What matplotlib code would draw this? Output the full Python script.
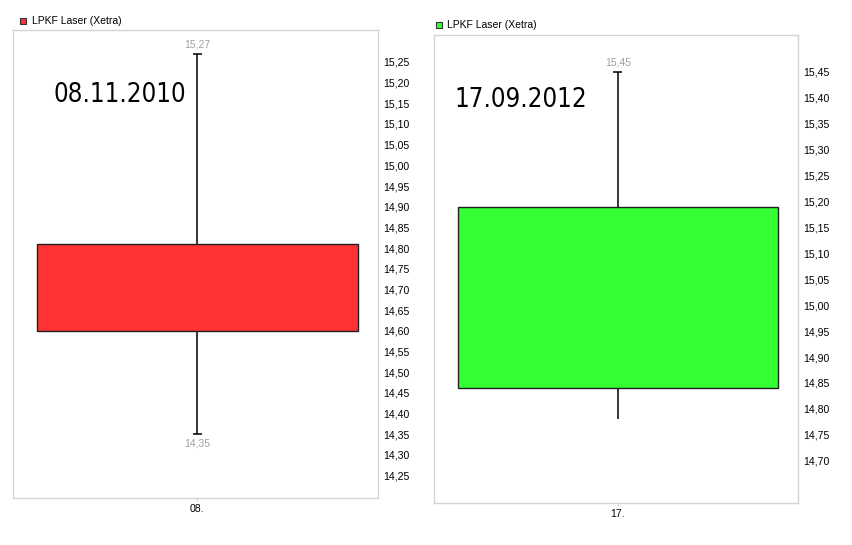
import matplotlib
matplotlib.use("Agg")
import matplotlib.pyplot as plt
from matplotlib.patches import Rectangle
import numpy as np

# ---- data ----
dates = ["08.11.2010", "17.09.2012"]
xlabels = ["08.", "17."]
series_name = "LPKF Laser (Xetra)"
opens = [14.81, 14.84]
closes = [14.60, 15.19]
highs = [15.27, 15.45]
lows = [14.35, 14.78]
show_low_label = [True, False]
show_low_cap = [True, False]
colors = ["#ff3333", "#33ff33"]
yticks_left = [round(14.25 + 0.05 * i, 2) for i in range(21)]
yticks_right = [round(14.70 + 0.05 * i, 2) for i in range(16)]

W, H = 853, 545
fig = plt.figure(figsize=(W / 100, H / 100), dpi=100)
fig.patch.set_facecolor("white")

def fx(px):
    return px / W

def fy(py):
    return 1 - py / H

panels = [
    dict(box=(13, 30, 378, 498), ylim=(14.196, 15.327), yticks=yticks_left,
         legend=(20, 18, 32), date=(0.112, 0.861)),
    dict(box=(434, 35, 798, 503), ylim=(14.6185, 15.521), yticks=yticks_right,
         legend=(436, 22, 447), date=(0.055, 0.861)),
]

font = "Liberation Sans"
for i, p in enumerate(panels):
    x0, y0, x1, y1 = p["box"]
    ax = fig.add_axes([fx(x0), fy(y1), fx(x1 - x0), (y1 - y0) / H])
    ax.set_xlim(-0.505, 0.495)
    ax.set_ylim(*p["ylim"])
    for s in ax.spines.values():
        s.set_color("#d4d4d4")
        s.set_linewidth(1.0)
    o, c, h, l = opens[i], closes[i], highs[i], lows[i]
    lo, hi = min(o, c), max(o, c)
    # whiskers
    ax.vlines(0, hi, h, color="black", lw=1.1, zorder=2)
    ax.vlines(0, l, lo, color="black", lw=1.1, zorder=2)
    ax.hlines(h, -0.012, 0.012, color="black", lw=1.1, zorder=2)
    if show_low_cap[i]:
        ax.hlines(l, -0.012, 0.012, color="black", lw=1.1, zorder=2)
    # body
    ax.bar(0, hi - lo, bottom=lo, width=0.88, color=colors[i],
           edgecolor="#202020", linewidth=1.0, zorder=3)
    # high/low labels
    ax.annotate(f"{h:.2f}".replace(".", ","), (0, h), xytext=(0, 3),
                textcoords="offset points", ha="center", va="bottom",
                color="#a0a0a0", fontsize=7.5, family=font)
    if show_low_label[i]:
        ax.annotate(f"{l:.2f}".replace(".", ","), (0, l), xytext=(0, -3),
                    textcoords="offset points", ha="center", va="top",
                    color="#a0a0a0", fontsize=7.5, family=font)
    # axes ticks
    ax.yaxis.tick_right()
    ax.set_yticks(p["yticks"])
    ax.set_yticklabels([f"{v:.2f}".replace(".", ",") for v in p["yticks"]],
                       fontsize=7.6, family=font)
    ax.tick_params(axis="y", length=0, pad=4)
    ax.set_xticks([0])
    ax.set_xticklabels([xlabels[i]], fontsize=7.6, family=font)
    ax.tick_params(axis="x", length=2, color="#d4d4d4", pad=2)
    # date text
    ax.text(p["date"][0], p["date"][1], dates[i], transform=ax.transAxes,
            ha="left", va="center", fontsize=18.5, family="DejaVu Sans",
            fontstretch="condensed", color="black")
    # legend
    lx, ly, tx = p["legend"]
    fig.patches.append(Rectangle((fx(lx), fy(ly + 6)), 6 / W, 6 / H,
                                 transform=fig.transFigure, facecolor=colors[i],
                                 edgecolor="#333333", linewidth=0.8))
    fig.text(fx(tx), fy(ly + 3), series_name, ha="left", va="center",
             fontsize=7.5, family=font)

fig.savefig("out.png", dpi=100)
